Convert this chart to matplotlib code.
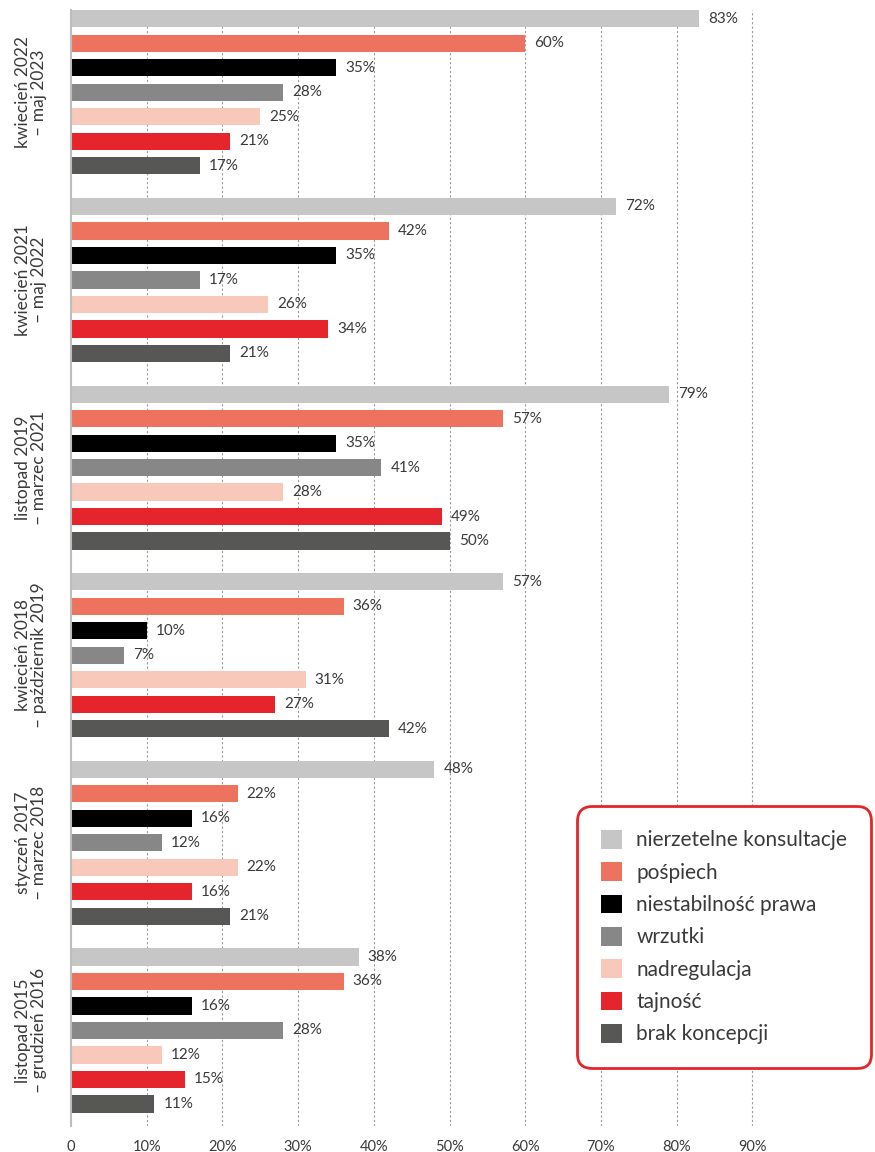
import matplotlib.pyplot as plt
import matplotlib.transforms as mtransforms
from matplotlib.patches import Patch

plt.rcParams['font.family'] = ['Lato', 'DejaVu Sans']

# okresy (od góry)
periods = ['kwiecień 2022\n– maj 2023',
           'kwiecień 2021\n– maj 2022',
           'listopad 2019\n– marzec 2021',
           'kwiecień 2018\n– październik 2019',
           'styczeń 2017\n– marzec 2018',
           'listopad 2015\n– grudzień 2016']

categories = ['nierzetelne konsultacje', 'pośpiech', 'niestabilność prawa',
              'wrzutki', 'nadregulacja', 'tajność', 'brak koncepcji']

colors = ['#c6c6c6', '#ee735f', '#000000', '#878787', '#f8c8ba', '#e5242b', '#575756']

# wartości w % dla każdego okresu, kolejność jak categories
values = [
    [83, 60, 35, 28, 25, 21, 17],
    [72, 42, 35, 17, 26, 34, 21],
    [79, 57, 35, 41, 28, 49, 50],
    [57, 36, 10, 7, 31, 27, 42],
    [48, 22, 16, 12, 22, 16, 21],
    [38, 36, 16, 28, 12, 15, 11],
]

xticks = [0, 10, 20, 30, 40, 50, 60, 70, 80, 90]
xticklabels = ['0', '10%', '20%', '30%', '40%', '50%', '60%', '70%', '80%', '90%']

W, H = 875, 1152
fig = plt.figure(figsize=(W / 100, H / 100), dpi=100)
ax = fig.add_axes([71 / W, 1 - 1126 / H, 1 - 71 / W, (1126 - 10) / H])

group_step = 7.66
txt_color = '#3a3a3a'
for i, row in enumerate(values):
    for j, v in enumerate(row):
        y = i * group_step + j
        ax.barh(y, v, height=0.7, color=colors[j], zorder=3)
        ax.text(v + 1.2, y, '%d%%' % v, va='center', ha='left',
                fontsize=11, color=txt_color, zorder=4)

# podpisy okresów po lewej
trans = mtransforms.blended_transform_factory(ax.transAxes, ax.transData)
for i, p in enumerate(periods):
    yc = i * group_step + 3
    ax.text(-0.05, yc, p, rotation=90, va='center', ha='center',
            multialignment='center', fontsize=12.5, color=txt_color,
            transform=trans, linespacing=1.0)

ax.set_xlim(0, 106.2)
ax.set_ylim(45.2, -0.36)
ax.set_xticks(xticks)
ax.set_xticklabels(xticklabels, fontsize=10.5, color=txt_color)
ax.set_yticks([])
ax.tick_params(axis='x', length=0, pad=10)
for x in xticks[1:]:
    ax.axvline(x, color='#9a9a9a', linestyle=(0, (2, 2)), linewidth=0.8, zorder=1)

for s in ['top', 'right', 'bottom']:
    ax.spines[s].set_visible(False)
ax.spines['left'].set_color('#bdbdbd')
ax.spines['left'].set_linewidth(1.5)
ax.spines['left'].set_zorder(5)

handles = [Patch(facecolor=c, edgecolor='none') for c in colors]
leg = fig.legend(handles, categories, loc='upper left',
                 bbox_to_anchor=(577 / W, 1 - 806 / H), fontsize=15,
                 frameon=True, handlelength=1.0, handleheight=1.0,
                 handletextpad=0.7, labelspacing=0.57, borderpad=1.15,
                 borderaxespad=0, labelcolor=txt_color)
frame = leg.get_frame()
frame.set_edgecolor('#e5242b')
frame.set_linewidth(2)
frame.set_facecolor('white')
frame.set_alpha(1)
frame.set_boxstyle('round,pad=0,rounding_size=0.7')

fig.savefig('out.png', dpi=100)
